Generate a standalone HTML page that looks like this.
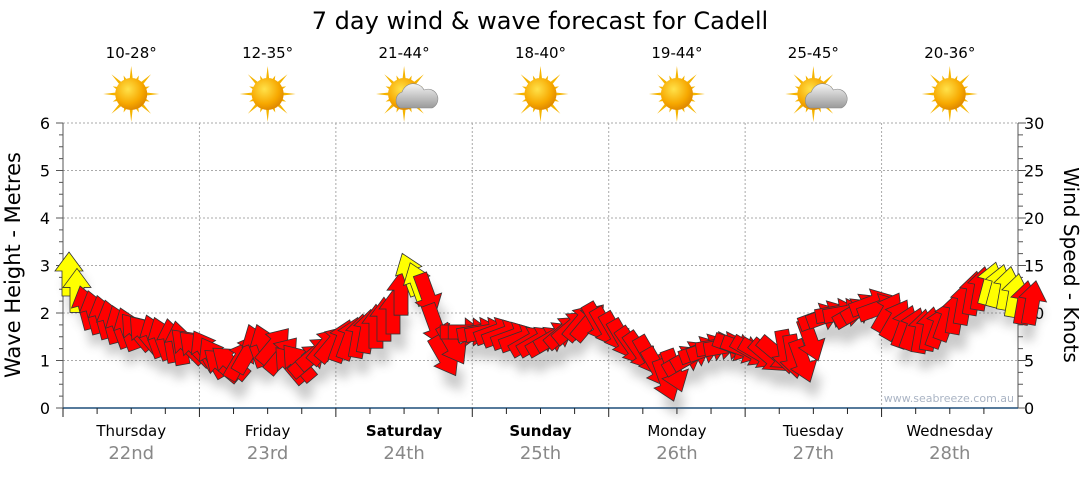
<!DOCTYPE html>
<html><head><meta charset="utf-8"><style>
body{margin:0;background:#fff;width:1080px;height:475px;overflow:hidden;font-family:"Liberation Sans","DejaVu Sans",sans-serif}
svg text{font-family:"DejaVu Sans","Liberation Sans",sans-serif}
</style></head><body>
<svg id="c" width="1080" height="475" viewBox="0 0 1080 475" xmlns="http://www.w3.org/2000/svg">
<defs>
<filter id="sh" x="-50%" y="-50%" width="200%" height="200%"><feGaussianBlur stdDeviation="5"/></filter>
<radialGradient id="sun" cx="40%" cy="35%" r="65%"><stop offset="0" stop-color="#ffe24a"/><stop offset="0.7" stop-color="#f7a800"/><stop offset="1" stop-color="#e08a00"/></radialGradient>
<linearGradient id="cloud" x1="0" y1="0" x2="0" y2="1"><stop offset="0" stop-color="#f4f4f4"/><stop offset="1" stop-color="#9a9a9a"/></linearGradient>
</defs>
<text x="540" y="29" font-size="24" text-anchor="middle" fill="#000">7 day wind &amp; wave forecast for Cadell</text>
<g id="grid"></g><g id="axes"></g><g id="icons"></g>
<text transform="translate(20,265) rotate(-90)" font-size="21" text-anchor="middle">Wave Height - Metres</text>
<text transform="translate(1064,265) rotate(90)" font-size="20" text-anchor="middle">Wind Speed - Knots</text>
<text x="1014" y="402" font-size="11" text-anchor="end" fill="#aab4c4">www.seabreeze.com.au</text>
<g id="shadows" filter="url(#sh)" opacity="0.3"></g>
<g id="arrows"></g>
</svg>
<script>
const days=["Thursday","Friday","Saturday","Sunday","Monday","Tuesday","Wednesday"];
const dates=["22nd","23rd","24th","25th","26th","27th","28th"];
const temps=["10-28°","12-35°","21-44°","18-40°","19-44°","25-45°","20-36°"];
const cloudy=[0,0,1,0,0,1,0];
const boldDays=[0,0,1,1,0,0,0];
const waveTicks=[0,1,2,3,4,5,6];
const knotTicks=[0,5,10,15,20,25,30];
// wind every 3 hours from Thursday 00:00
const windSpeed=[14,10.5,9.5,8.5,8,7.5,7,6.5, 6,4.5,5,6.5,6.5,4.5,5,6.5, 7,7.5,8.5,10,14,12,5.5,8, 8,8,7.5,7,7,8,9,9, 8,6.5,5.5,3,5,6,6.5,6.5, 6,5.5,6,5,9.5,10,10,11, 10,8.5,8,8.5,10,12,13,12.5,11];
const windDir=[0,-15,-15,-20,-40,-20,-10,-45, -30,-50,30,-20,40,-40,50,40, 20,10,0,0,-20,160,150,90, 80,70,70,60,60,50,40,150, 150,145,150,160,60,70,80,110, 120,130,170,160,70,80,60,70, 30,20,10,20,10,10,15,10,10];
const X0=63,X1=1018,Y0=408,Y1=123,NS="http://www.w3.org/2000/svg";
const dayW=(X1-X0)/7;
function xAt(i){return X0+i*dayW/8+6;}
function yWave(m){return Y0-(Y0-Y1)*m/6;}
function yKn(k){return Y0-(Y0-Y1)*k/30;}
function mk(t,a,p){const e=document.createElementNS(NS,t);for(const k in a)e.setAttribute(k,a[k]);(p||document.getElementById('c')).appendChild(e);return e;}
const grid=document.getElementById('grid'),axes=document.getElementById('axes'),icons=document.getElementById('icons');
waveTicks.forEach(m=>{
 if(m>0){const g=mk('line',{x1:X0,x2:X1,y1:yWave(m),y2:yWave(m),stroke:'#aaa','stroke-dasharray':'2,2'},grid);}
 const t=mk('text',{x:50,y:yWave(m)+6,'font-size':16,'text-anchor':'end'},axes);t.textContent=m;
 
});
knotTicks.forEach(k=>{const t=mk('text',{x:1024,y:yKn(k)+6,'font-size':16},axes);t.textContent=k;
 });
for(let m=0;m<=24;m++){const y=Y0-(Y0-Y1)*m/24;
 mk('line',{x1:X0-(m%4?4:7),x2:X0,y1:y,y2:y,stroke:'#555'},axes);
 mk('line',{x1:X1,x2:X1+(m%4?5:8),y1:y,y2:y,stroke:'#555'},axes);}
mk('line',{x1:X0,x2:X0,y1:Y1,y2:Y0,stroke:'#555'},axes);
mk('line',{x1:X1,x2:X1,y1:Y1,y2:Y0,stroke:'#555'},axes);
mk('line',{x1:X0,x2:X1,y1:Y0,y2:Y0,stroke:'#1f4f7a','stroke-width':1.5},axes);
for(let i=0;i<7;i++){
 const xs=X0+i*dayW,xc=xs+dayW/2;
 if(i>0){const g=mk('line',{x1:xs,x2:xs,y1:Y1,y2:Y0,stroke:'#aaa','stroke-dasharray':'2,2'},grid);}
 for(let h=0;h<4;h++){const x=xs+h*dayW/4;mk('line',{x1:x,x2:x,y1:Y0,y2:Y0+(h?6:9),stroke:'#222'},axes);}
 const d=mk('text',{x:xc,y:436,'font-size':15,'text-anchor':'middle','font-weight':boldDays[i]?'bold':'normal'},axes);d.textContent=days[i];
 
 const dt=mk('text',{x:xc,y:459,'font-size':18,'text-anchor':'middle',fill:'#888'},axes);dt.textContent=dates[i];
 
 const tp=mk('text',{x:xc,y:58,'font-size':15,'text-anchor':'middle'},icons);tp.textContent=temps[i];
 
 const g=mk('g',{transform:`translate(${xc},${94})`},icons);
 
 for(let r=0;r<16;r++){const a=r*Math.PI/8,L=r%2?20:28;
  mk('polygon',{points:`${Math.cos(a-0.12)*14},${Math.sin(a-0.12)*14} ${Math.cos(a)*L},${Math.sin(a)*L} ${Math.cos(a+0.12)*14},${Math.sin(a+0.12)*14}`,fill:'#f5b400'},g);}
 mk('circle',{r:16,fill:'url(#sun)'},g);
 if(cloudy[i]){mk('path',{d:'M-4,14 a9,9 0 0 1 2,-16 a12,12 0 0 1 22,-2 a9,9 0 0 1 8,18 z',fill:'url(#cloud)',stroke:'#888','stroke-width':0.6},g);}
}
const sh=document.getElementById('shadows'),ar=document.getElementById('arrows');
const AP="0,-23 14,-4 7,-4 7,21 -7,21 -7,-4 -14,-4";
windSpeed.forEach((k,i)=>{
 const x=xAt(i),y=yKn(k),col=k>=12.5?'#ffff00':'#ff0000';
 const nk=windSpeed[Math.min(i+1,windSpeed.length-1)];
 const s=mk('polygon',{points:AP,fill:'#555',transform:`translate(${x+6},${y+16}) rotate(${windDir[i]})`},sh);
 
 const a=mk('polygon',{points:AP,fill:col,stroke:'#333','stroke-width':0.8,transform:`translate(${x},${y}) rotate(${windDir[i]})`},ar);
 
 const a2=mk('polygon',{points:AP,fill:col,stroke:'#333','stroke-width':0.8,transform:`translate(${x+8},${y-(nk-k)*4.7}) rotate(${windDir[i]})`},ar);
 
});
</script>
</body></html>
